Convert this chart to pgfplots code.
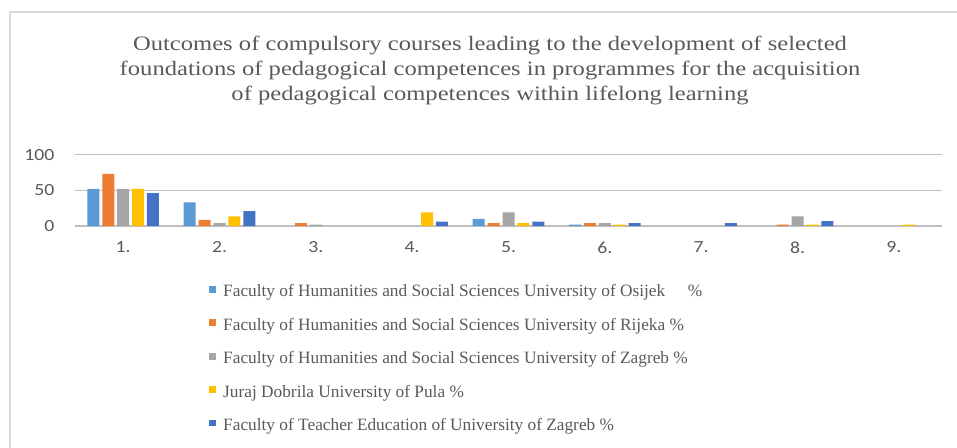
\documentclass[border=0pt]{standalone}
\usepackage{fontspec}
\setmainfont{Liberation Serif}
\newfontfamily\titlefont{Liberation Serif}[FakeStretch=1.2]
\newfontfamily\calibri{Carlito}[FakeStretch=1.16]
\usepackage{pgfplots}
\pgfplotsset{compat=1.18}
\definecolor{cA}{HTML}{5B9BD5}
\definecolor{cB}{HTML}{ED7D31}
\definecolor{cC}{HTML}{A5A5A5}
\definecolor{cD}{HTML}{FFC000}
\definecolor{cE}{HTML}{4472C4}
\definecolor{txt}{HTML}{595959}
\definecolor{grid}{HTML}{D9D9D9}
\begin{document}
\begin{tikzpicture}
\useasboundingbox (0pt,0pt) rectangle (957pt,447pt);
\draw[grid,line width=1.5pt] (10pt,-20pt) |- (1000pt,435pt);
\node[align=center,text=txt,font=\titlefont\fontsize{20.5}{25}\selectfont] at (490pt,377pt) {Outcomes of compulsory courses leading to the development of selected\\foundations of pedagogical competences in programmes for the acquisition\\of pedagogical competences within lifelong learning};
\begin{axis}[
  at={(75pt,221pt)}, anchor=south west,
  scale only axis, width=867pt, height=71.3pt,
  xmin=0.5, xmax=9.5, ymin=0, ymax=100,
  ybar=2.9pt, bar width=12pt,
  axis lines=left, axis line style={draw=none},
  major tick length=0pt, tick style={draw=none},
  ytick={0,50,100},
  xtick={1,...,9},
  xticklabels={1.,2.,3.,4.,5.,6.,7.,8.,9.},
  ymajorgrids, xmajorgrids=false, grid style={grid,line width=1.3pt},
  /pgf/number format/assume math mode=true,
  ticklabel style={font=\calibri\fontsize{17}{20}\selectfont, text=txt},
  yticklabel style={xshift=-17pt},
  xticklabel style={yshift=-12pt},
  legend style={at={(0.1546,-0.79)}, anchor=north west, draw=none, fill=none,
    font=\fontsize{17.3}{20}\selectfont, text=txt, row sep=15.8pt, inner sep=0pt,
    /tikz/every odd column/.append style={column sep=5pt}},
  legend cell align=left,
  legend image code/.code={\fill[#1,draw=none] (0pt,-1.2pt) rectangle (7pt,5.5pt);},
]
\addplot[fill=cA,draw=none] coordinates {(1,52) (2,33) (5,10) (6,2)};
\addplot[fill=cB,draw=none] coordinates {(1,73) (2,8.5) (3,4) (5,4) (6,4) (8,2)};
\addplot[fill=cC,draw=none] coordinates {(1,52) (2,4) (3,2) (5,19) (6,4) (8,13.5)};
\addplot[fill=cD,draw=none] coordinates {(1,52) (2,13.5) (4,19) (5,4) (6,2) (8,2) (9,2)};
\addplot[fill=cE,draw=none] coordinates {(1,46) (2,21) (4,6) (5,6) (6,4) (7,4) (8,7)};
\legend{Faculty of Humanities and Social Sciences University of Osijek\hspace{1.3em}\%,
Faculty of Humanities and Social Sciences University of Rijeka \%,
Faculty of Humanities and Social Sciences University of Zagreb \%,
Juraj Dobrila University of Pula \%,
Faculty of Teacher Education of University of Zagreb \%}
\end{axis}
\end{tikzpicture}
\end{document}
